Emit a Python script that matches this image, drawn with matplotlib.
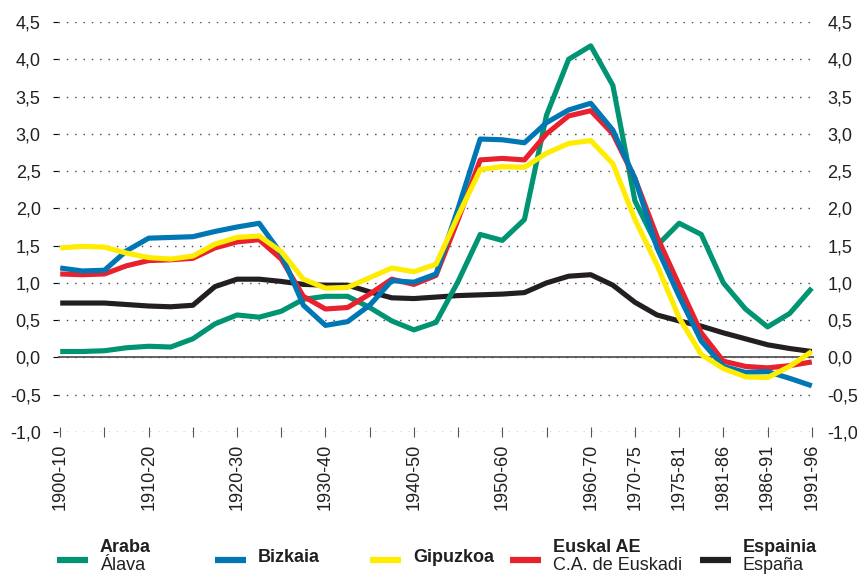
import numpy as np
import matplotlib
matplotlib.use("Agg")
import matplotlib.pyplot as plt
from matplotlib.lines import Line2D

# ── Data (half-period steps) ─────────────────────────────────────────────────

periods = ["1900-10", "", "1910-20", "", "1920-30", "", "1930-40", "", "1940-50", "",
           "1950-60", "", "1960-70", "1970-75", "1975-81", "1981-86", "1986-91", "1991-96"]
x = np.arange(35) * 0.5

araba = [0.08, 0.08, 0.09, 0.13, 0.15, 0.14, 0.25, 0.45, 0.57, 0.54, 0.62, 0.78, 0.82, 0.82,
         0.67, 0.49, 0.37, 0.47, 1.02, 1.65, 1.57, 1.85, 3.25, 4.00, 4.18, 3.65, 2.10, 1.50,
         1.80, 1.65, 1.00, 0.65, 0.41, 0.59, 0.93]
bizkaia = [1.20, 1.16, 1.17, 1.43, 1.60, 1.61, 1.62, 1.69, 1.75, 1.80, 1.39, 0.70, 0.43, 0.48,
           0.70, 1.03, 1.01, 1.12, 2.00, 2.93, 2.92, 2.88, 3.15, 3.32, 3.41, 3.05, 2.40, 1.47,
           0.82, 0.22, -0.12, -0.20, -0.19, -0.28, -0.38]
gipuzkoa = [1.47, 1.49, 1.48, 1.40, 1.34, 1.32, 1.36, 1.52, 1.61, 1.63, 1.42, 1.05, 0.93, 0.94,
            1.07, 1.20, 1.15, 1.25, 1.90, 2.52, 2.56, 2.55, 2.74, 2.87, 2.91, 2.60, 1.85, 1.24,
            0.53, 0.04, -0.15, -0.26, -0.27, -0.12, 0.08]
euskadi = [1.12, 1.11, 1.12, 1.23, 1.30, 1.31, 1.33, 1.47, 1.55, 1.58, 1.32, 0.82, 0.65, 0.67,
           0.85, 1.05, 0.98, 1.10, 1.85, 2.65, 2.67, 2.65, 3.00, 3.24, 3.31, 3.00, 2.40, 1.62,
           0.97, 0.33, -0.05, -0.12, -0.14, -0.11, -0.06]
espainia = [0.73, 0.73, 0.73, 0.71, 0.69, 0.68, 0.70, 0.95, 1.05, 1.05, 1.02, 0.98, 0.97, 0.97,
            0.88, 0.80, 0.79, 0.81, 0.83, 0.84, 0.85, 0.87, 1.00, 1.09, 1.11, 0.97, 0.74, 0.57,
            0.49, 0.42, 0.33, 0.25, 0.17, 0.12, 0.08]

y_ticks = [-1.0, -0.5, 0.0, 0.5, 1.0, 1.5, 2.0, 2.5, 3.0, 3.5, 4.0, 4.5]
y_labels = ["-1,0", "-0,5", "0,0", "0,5", "1,0", "1,5", "2,0", "2,5", "3,0", "3,5", "4,0", "4,5"]

SERIES = [
    # drawing order: bottom → top
    (espainia, "#231f20"),
    (araba,    "#009472"),
    (euskadi,  "#e8212e"),
    (bizkaia,  "#0077b5"),
    (gipuzkoa, "#ffec00"),
]

plt.rcParams["font.family"] = ["Liberation Sans", "DejaVu Sans"]
TXT = "#231f20"

fig = plt.figure(figsize=(8.57, 5.75), dpi=100)
ax = fig.add_axes([58 / 857, 143 / 575, 756 / 857, 410 / 575])

for vals, col in SERIES:
    ax.plot(x, vals, color=col, lw=3.7, solid_joinstyle="round", solid_capstyle="butt", zorder=3)

ax.axhline(0, color="#555555", lw=1.3, zorder=2)

ax.set_xlim(-0.05, 17.05)
ax.set_ylim(-1.0, 4.5)
ax.set_yticks(y_ticks)
ax.set_yticklabels(y_labels)
ax.set_xticks(np.arange(len(periods)))
ax.set_xticklabels(periods, rotation=90, fontsize=13, color=TXT)

ax.yaxis.grid(True, linestyle=(0, (1, 5)), color="#444444", lw=1)
ax.set_axisbelow(True)
for s in ax.spines.values():
    s.set_visible(False)

ax.tick_params(axis="y", left=False, labelsize=13, labelcolor=TXT, pad=9)
ax.tick_params(axis="x", direction="inout", length=7, width=0.8, color="#555555", pad=5)

# right-hand copy of the y labels
ax2 = ax.twinx()
ax2.set_ylim(ax.get_ylim())
ax2.set_yticks(y_ticks)
ax2.set_yticklabels(y_labels)
ax2.tick_params(axis="y", right=False, labelsize=13, labelcolor=TXT, pad=6)
for s in ax2.spines.values():
    s.set_visible(False)

# ── Legend drawn by hand (bold name + regular sub-name) ──────────────────────
legend_items = [
    ("#009472", "Araba", "Álava", 57),
    ("#0077b5", "Bizkaia", None, 215),
    ("#ffec00", "Gipuzkoa", None, 370),
    ("#e8212e", "Euskal AE", "C.A. de Euskadi", 510),
    ("#231f20", "Espainia", "España", 700),
]
for col, name, sub, px in legend_items:
    fx = px / 857
    fig.add_artist(Line2D([fx, fx + 31 / 857], [15 / 575, 15 / 575], color=col, lw=4.5,
                          solid_capstyle="butt", transform=fig.transFigure))
    tx = fx + 43 / 857
    if sub is None:
        fig.text(tx, 17 / 575, name, fontsize=13, fontweight="bold",
                 va="center", ha="left", color=TXT)
    else:
        fig.text(tx, 27 / 575, name, fontsize=13, fontweight="bold",
                 va="center", ha="left", color=TXT)
        fig.text(tx, 9 / 575, sub, fontsize=13,
                 va="center", ha="left", color=TXT)

fig.savefig("out.png", dpi=100)
